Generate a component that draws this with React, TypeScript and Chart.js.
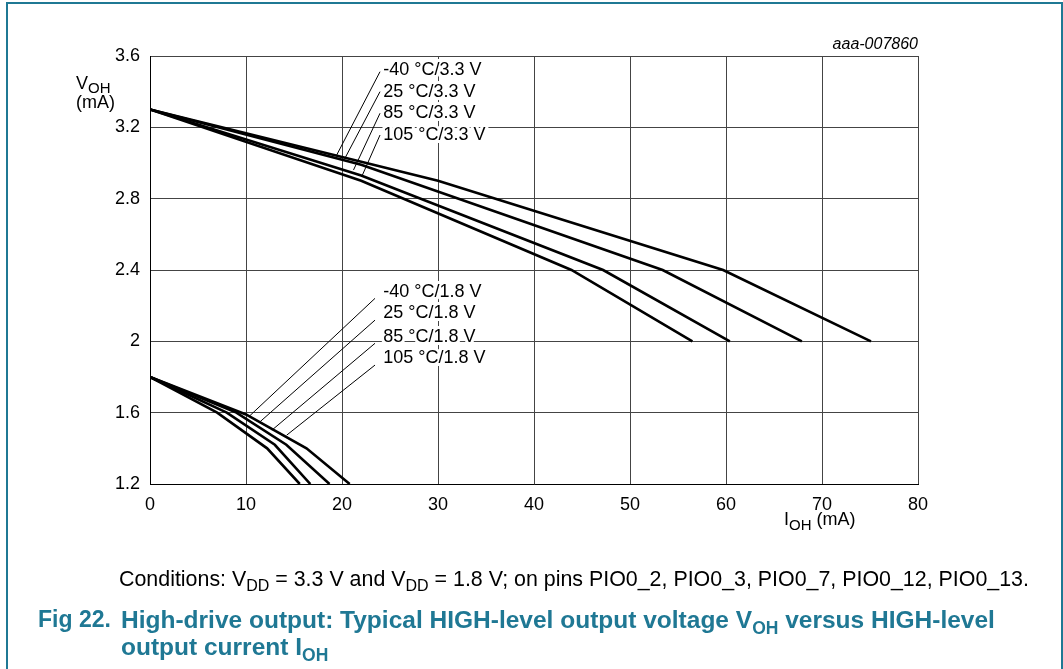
import React, { useEffect, useRef } from "react";
import { Chart, registerables } from "chart.js";

Chart.register(...registerables);

// ---- data (I_OH in mA, V_OH) ----
const xTicks = [0, 10, 20, 30, 40, 50, 60, 70, 80];
const yTicks = [1.2, 1.6, 2, 2.4, 2.8, 3.2, 3.6];

const iM40_33 = [0, 30, 59.7, 75.1];
const vM40_33 = [3.3, 2.9, 2.4, 2.0];
const i25_33 = [0, 22, 53.4, 67.9];
const v25_33 = [3.3, 2.99, 2.4, 2.0];
const i85_33 = [0, 22, 47.2, 60.4];
const v85_33 = [3.3, 2.93, 2.4, 2.0];
const i105_33 = [0, 22, 43.9, 56.5];
const v105_33 = [3.3, 2.9, 2.4, 2.0];

const iM40_18 = [0, 10, 16.3, 20.8];
const vM40_18 = [1.8, 1.59, 1.4, 1.2];
const i25_18 = [0, 9, 14.2, 18.7];
const v25_18 = [1.8, 1.6, 1.42, 1.2];
const i85_18 = [0, 8, 13, 16.7];
const v85_18 = [1.8, 1.6, 1.42, 1.2];
const i105_18 = [0, 7, 12.2, 15.6];
const v105_18 = [1.8, 1.6, 1.4, 1.2];

const seriesNames = [
  "-40 °C/3.3 V", "25 °C/3.3 V", "85 °C/3.3 V", "105 °C/3.3 V",
  "-40 °C/1.8 V", "25 °C/1.8 V", "85 °C/1.8 V", "105 °C/1.8 V",
];
const seriesX = [iM40_33, i25_33, i85_33, i105_33, iM40_18, i25_18, i85_18, i105_18];
const seriesY = [vM40_33, v25_33, v85_33, v105_33, vM40_18, v25_18, v85_18, v105_18];

// ---- callout annotations (data coordinates) ----
const labelX = [24.3, 24.3, 24.3, 24.3, 24.3, 24.3, 24.3, 24.3];
const labelY = [3.521, 3.398, 3.28, 3.157, 2.278, 2.157, 2.026, 1.905];
const leaderX0 = [23.96, 23.96, 23.96, 23.96, 23.44, 23.44, 23.44, 23.44];
const leaderY0 = [3.512, 3.4, 3.279, 3.157, 2.241, 2.119, 1.989, 1.867];
const leaderX1 = [19.45, 20.3, 21.2, 22.05, 10.42, 11.46, 12.7, 14.24];
const leaderY1 = [3.045, 3.026, 2.961, 2.923, 1.584, 1.549, 1.502, 1.474];

const FONT = "'Liberation Sans', Arial, Helvetica, sans-serif";
const TEAL = "#1f7894";

const calloutPlugin = {
  id: "callouts",
  afterDatasetsDraw(chart: any) {
    const { ctx, scales, chartArea } = chart;
    const xs = scales.x;
    const ys = scales.y;
    ctx.save();
    ctx.font = `18px ${FONT}`;
    ctx.textBaseline = "middle";
    ctx.textAlign = "left";
    // halos
    ctx.strokeStyle = "#ffffff";
    ctx.lineWidth = 6;
    ctx.lineJoin = "round";
    seriesNames.forEach((t, i) => {
      ctx.strokeText(t, xs.getPixelForValue(labelX[i]), ys.getPixelForValue(labelY[i]));
    });
    // leaders
    ctx.strokeStyle = "#000";
    ctx.lineWidth = 1;
    seriesNames.forEach((_, i) => {
      ctx.beginPath();
      ctx.moveTo(xs.getPixelForValue(leaderX0[i]), ys.getPixelForValue(leaderY0[i]));
      ctx.lineTo(xs.getPixelForValue(leaderX1[i]), ys.getPixelForValue(leaderY1[i]));
      ctx.stroke();
    });
    ctx.fillStyle = "#000";
    seriesNames.forEach((t, i) => {
      ctx.fillText(t, xs.getPixelForValue(labelX[i]), ys.getPixelForValue(labelY[i]));
    });

    // y axis title
    ctx.textBaseline = "alphabetic";
    ctx.font = `18px ${FONT}`;
    ctx.fillText("V", 76, 89);
    const vw = ctx.measureText("V").width;
    ctx.font = `15px ${FONT}`;
    ctx.fillText("OH", 76 + vw, 93);
    ctx.font = `18px ${FONT}`;
    ctx.fillText("(mA)", 76, 108);

    // x axis title
    ctx.fillText("I", 784, 525);
    const iw = ctx.measureText("I").width;
    ctx.font = `15px ${FONT}`;
    ctx.fillText("OH", 784 + iw, 530);
    const ow = ctx.measureText("OH").width;
    ctx.font = `18px ${FONT}`;
    ctx.fillText(" (mA)", 784 + iw + ow, 525);

    // figure code
    ctx.font = `italic 16px ${FONT}`;
    ctx.textAlign = "right";
    ctx.fillText("aaa-007860", chartArea.right, 49);
    ctx.restore();
  },
};

export default function App() {
  const ref = useRef<HTMLCanvasElement | null>(null);

  useEffect(() => {
    if (!ref.current) return;
    const datasets = seriesNames.map((name, i) => ({
      label: name,
      data: seriesX[i].map((x, j) => ({ x, y: seriesY[i][j] })),
      borderColor: "#000",
      borderWidth: 2.6,
      pointRadius: 0,
      tension: 0,
      fill: false,
    }));
    const chart = new Chart(ref.current, {
      type: "line",
      data: { datasets },
      options: {
        animation: false,
        responsive: false,
        devicePixelRatio: 1,
        layout: { padding: { left: 0, top: 56, right: 145, bottom: 0 } },
        plugins: { legend: { display: false }, tooltip: { enabled: false } },
        scales: {
          x: {
            type: "linear",
            min: 0,
            max: 80,
            afterBuildTicks: (s: any) => { s.ticks = xTicks.map((v) => ({ value: v })); },
            afterFit: (s: any) => { s.height = 76; },
            grid: { color: "#444", lineWidth: 1, drawTicks: false },
            border: { color: "#000", width: 1 },
            ticks: { color: "#000", font: { family: FONT, size: 18 }, padding: 10, maxRotation: 0 },
          },
          y: {
            type: "linear",
            min: 1.2,
            max: 3.6,
            afterBuildTicks: (s: any) => { s.ticks = yTicks.map((v) => ({ value: v })); },
            afterFit: (s: any) => { s.width = 150; },
            grid: { color: "#444", lineWidth: 1, drawTicks: false },
            border: { color: "#000", width: 1 },
            ticks: {
              color: "#000",
              font: { family: FONT, size: 18 },
              padding: 10,
              callback: (v: any) => String(Number(Number(v).toFixed(1))),
            },
          },
        },
      },
      plugins: [calloutPlugin],
    });
    return () => chart.destroy();
  }, []);

  return (
    <div style={{ position: "absolute", left: 0, top: 0, width: 1063, height: 669, background: "#fff", overflow: "hidden" }}>
      <canvas ref={ref} width={1063} height={560} style={{ position: "absolute", left: 0, top: 0, width: 1063, height: 560 }} />
      <div style={{ position: "absolute", left: 6, top: 2, width: 1057, height: 800, border: `2px solid ${TEAL}`, boxSizing: "border-box", pointerEvents: "none" }} />
      <div style={{ position: "absolute", left: 119, top: 566, fontFamily: FONT, fontSize: 21.4, color: "#000", whiteSpace: "nowrap", lineHeight: "26px" }}>
        Conditions: V<sub style={{ fontSize: 16, lineHeight: 0 }}>DD</sub> = 3.3 V and V<sub style={{ fontSize: 16, lineHeight: 0 }}>DD</sub> = 1.8 V; on pins PIO0_2, PIO0_3, PIO0_7, PIO0_12, PIO0_13.
      </div>
      <div style={{ position: "absolute", left: 38, top: 606, fontFamily: FONT, fontSize: 23, fontWeight: "bold", color: TEAL, whiteSpace: "nowrap", lineHeight: "27px" }}>
        Fig 22.
      </div>
      <div style={{ position: "absolute", left: 121, top: 606, fontFamily: FONT, fontSize: 24.5, fontWeight: "bold", color: TEAL, whiteSpace: "nowrap", lineHeight: "27px" }}>
        <div>High-drive output: Typical HIGH-level output voltage V<sub style={{ fontSize: 17.5, lineHeight: 0 }}>OH</sub> versus HIGH-level</div>
        <div>output current I<sub style={{ fontSize: 17.5, lineHeight: 0 }}>OH</sub></div>
      </div>
    </div>
  );
}
